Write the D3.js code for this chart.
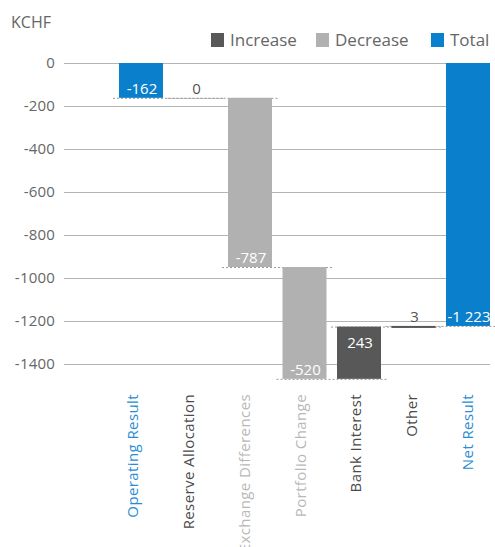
<!DOCTYPE html>
<html>
<head>
<meta charset="utf-8">
<script src="https://cdn.jsdelivr.net/npm/d3@7"></script>
<style>
  body { margin: 0; background: #fff; }
  text { font-family: "Open Sans", Lato, sans-serif; font-weight: 400; }
</style>
</head>
<body>
<div id="chart"></div>
<script>
var categories = ["Operating Result", "Reserve Allocation", "Exchange Differences", "Portfolio Change", "Bank Interest", "Other", "Net Result"];
var values = [-162, 0, -787, -520, 243, 3, -1223];
var kinds = ["total", "increase", "decrease", "decrease", "increase", "increase", "total"];
var yTicks = [0, -200, -400, -600, -800, -1000, -1200, -1400];
var legendKeys = ["Increase", "Decrease", "Total"];

function init() {
    var w = 495, h = 547;
    var colors = { increase: "#585858", decrease: "#b1b1b1", total: "#0a7fcc" };
    var labelColors = { increase: "#4a4a4a", decrease: "#b8b8b8", total: "#2a8cd2" };

    var fmt = d3.formatLocale({ decimal: ".", thousands: " ", grouping: [3], currency: ["", ""], minus: "-" }).format(",d");

    // running totals
    var cum = 0;
    var dataset = categories.map(function(c, i) {
        var start, end;
        if (kinds[i] == "total") { start = 0; end = values[i]; cum = values[i]; }
        else { start = cum; end = cum + values[i]; cum = end; }
        return { name: c, value: values[i], kind: kinds[i], start: start, end: end };
    });

    var xScale = d3.scaleBand().domain(categories).range([119, 490]).paddingInner(0.193).paddingOuter(0);
    var labelScale = d3.scalePoint().domain(categories).range([138, 473]);
    var yScale = d3.scaleLinear().domain([0, -1400]).range([63, 364]);

    var svg = d3.select("#chart").append("svg").attr("width", w).attr("height", h);

    // grid + y ticks
    svg.append("g").selectAll("line").data(yTicks).enter().append("line")
        .attr("x1", 64).attr("x2", 490)
        .attr("y1", function(d) { return Math.round(yScale(d)) + 0.5; })
        .attr("y2", function(d) { return Math.round(yScale(d)) + 0.5; })
        .attr("stroke", "#b4b4b4").attr("stroke-width", 1);

    svg.append("g").selectAll("text").data(yTicks).enter().append("text")
        .attr("x", 55).attr("y", function(d) { return yScale(d); })
        .attr("dy", "0.36em").attr("text-anchor", "end")
        .attr("font-size", 15).attr("letter-spacing", 0.2).attr("fill", "#666")
        .text(function(d) { return d; });

    svg.append("text").attr("x", 11).attr("y", 28)
        .attr("font-size", 16).attr("fill", "#666").text("KCHF");

    // connectors
    var conn = [];
    for (var i = 0; i < dataset.length - 1; i++) {
        conn.push({ level: dataset[i].end, x1: xScale(categories[i]) - 6, x2: xScale(categories[i + 1]) + xScale.bandwidth() + 6 });
    }
    svg.append("g").selectAll("line").data(conn).enter().append("line")
        .attr("x1", function(d) { return d.x1; }).attr("x2", function(d) { return d.x2; })
        .attr("y1", function(d) { return yScale(d.level) + 0.5; })
        .attr("y2", function(d) { return yScale(d.level) + 0.5; })
        .attr("stroke", "#9a9a9a").attr("stroke-width", 1).attr("stroke-dasharray", "2,2");

    // bars
    svg.append("g").selectAll("rect").data(dataset).enter().append("rect")
        .attr("x", function(d) { return xScale(d.name); })
        .attr("width", xScale.bandwidth())
        .attr("y", function(d) { return yScale(Math.max(d.start, d.end)); })
        .attr("height", function(d) { return Math.max(Math.abs(yScale(d.start) - yScale(d.end)), d.value == 0 ? 0 : 2); })
        .attr("fill", function(d) { return colors[d.kind]; });

    // value labels
    svg.append("g").selectAll("text").data(dataset).enter().append("text")
        .attr("x", function(d) { return xScale(d.name) + xScale.bandwidth() / 2 + 1; })
        .attr("y", function(d) {
            var top = yScale(Math.max(d.start, d.end)), bot = yScale(Math.min(d.start, d.end));
            if (bot - top < 20) return top - 4;
            if (d.end < d.start) return bot - 4;
            return top + 21;
        })
        .attr("text-anchor", "middle").attr("font-size", 15)
        .attr("fill", function(d) {
            var hh = Math.abs(yScale(d.start) - yScale(d.end));
            return hh < 20 ? "#555" : "#fff";
        })
        .text(function(d) { return fmt(d.value); });

    // category labels
    svg.append("g").selectAll("text").data(dataset).enter().append("text")
        .attr("transform", function(d) { return "translate(" + labelScale(d.name) + ",394) rotate(-90)"; })
        .attr("text-anchor", "end").attr("font-size", 15).attr("letter-spacing", 0.4)
        .attr("fill", function(d) { return labelColors[d.kind]; })
        .text(function(d) { return d.name; });

    // legend
    var legX = [211, 316, 431];
    var leg = svg.append("g").selectAll("g").data(legendKeys).enter().append("g")
        .attr("transform", function(d, i) { return "translate(" + legX[i] + ",33)"; });
    leg.append("rect").attr("width", 13).attr("height", 14)
        .attr("fill", function(d) { return colors[d.toLowerCase()]; });
    leg.append("text").attr("x", 19).attr("y", 13).attr("font-size", 17).attr("fill", "#666")
        .text(function(d) { return d; });
}
window.onload = init;
</script>
</body>
</html>
